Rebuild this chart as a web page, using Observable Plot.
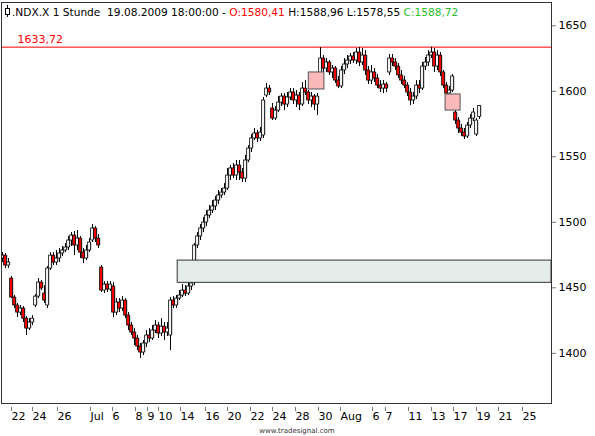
<!DOCTYPE html>
<html><head><meta charset="utf-8">
<script src="https://cdn.jsdelivr.net/npm/d3@7"></script>
<script src="https://cdn.jsdelivr.net/npm/@observablehq/plot@0.6"></script>
<style>
html,body{margin:0;padding:0;background:#fff;}
#chart svg{display:block}
</style></head><body><div id="chart"></div>
<script>
// hourly bars of .NDX.X (bar index 0..159)
const opens = [
1472.4,1474.6,1467.0,1457.1,1442.6,1436.5,1431.1,1434.2,1426.5,1418.9,
1423.5,1436.5,1443.3,1454.0,1445.6,1436.5,1464.7,1474.6,1469.3,1472.4,
1476.2,1478.5,1480.8,1486.1,1489.9,1482.3,1487.6,1476.9,1472.4,1478.5,
1486.1,1495.3,1487.6,1465.5,1447.9,1452.5,1448.7,1451.0,1431.1,1438.8,
1434.2,1440.3,1428.8,1421.2,1415.9,1411.3,1405.2,1400.6,1407.5,1413.6,
1411.3,1417.4,1421.2,1415.1,1420.4,1415.9,1413.6,1440.3,1436.5,1441.8,
1444.1,1447.9,1445.6,1451.0,1463.2,1482.3,1489.2,1495.3,1499.8,1505.2,
1509.0,1512.1,1516.6,1520.5,1522.7,1525.8,1535.7,1541.1,1535.7,1543.4,
1538.0,1533.4,1547.2,1556.3,1564.0,1567.8,1564.0,1566.3,1596.8,1602.1,
1586.9,1579.2,1585.3,1591.4,1596.0,1589.9,1595.3,1599.1,1593.0,1596.8,
1589.9,1602.1,1599.1,1593.0,1596.0,1589.9,1612.1,1625.0,1617.4,1622.0,
1614.4,1617.4,1608.2,1603.7,1615.9,1620.5,1623.5,1626.6,1623.5,1629.6,
1622.0,1627.3,1615.9,1608.2,1614.4,1609.8,1604.4,1602.1,1605.2,1614.4,
1625.0,1622.0,1618.9,1612.1,1608.2,1604.4,1599.1,1593.0,1596.0,1604.4,
1602.1,1618.9,1622.0,1627.3,1629.6,1618.9,1627.3,1614.4,1604.4,1598.3,
1600.6,1583.8,1577.7,1571.6,1568.5,1565.5,1573.9,1579.2,1567.0,1580.41];
const highs = [
1476.9,1476.2,1472.4,1458.6,1444.1,1438.0,1436.5,1435.7,1428.1,1426.5,
1428.8,1444.9,1457.1,1455.6,1451.7,1466.3,1476.9,1476.9,1478.5,1480.0,
1481.5,1483.8,1489.2,1492.2,1493.0,1493.7,1489.2,1480.0,1482.3,1487.6,
1498.3,1496.8,1490.7,1467.0,1454.8,1454.8,1454.8,1454.0,1441.8,1441.8,
1443.3,1441.8,1431.1,1423.5,1418.9,1413.6,1407.5,1409.8,1417.4,1418.9,
1421.2,1425.0,1423.5,1426.5,1423.5,1423.5,1442.6,1443.3,1444.1,1447.9,
1452.5,1451.7,1454.0,1455.6,1483.8,1492.2,1498.3,1503.7,1509.0,1512.8,
1516.6,1519.7,1524.3,1525.8,1529.6,1541.1,1543.4,1544.9,1547.2,1547.2,
1541.1,1551.0,1558.6,1567.0,1571.6,1570.1,1572.4,1595.3,1606.0,1604.4,
1590.7,1588.4,1596.0,1598.3,1598.3,1599.1,1602.1,1602.1,1600.6,1599.1,
1606.7,1608.2,1600.6,1599.1,1597.6,1598.3,1633.4,1627.3,1625.0,1623.5,
1619.7,1618.9,1611.3,1618.9,1625.0,1627.3,1628.9,1629.6,1632.7,1633.4,
1632.7,1631.1,1618.9,1619.7,1617.4,1612.8,1608.2,1608.2,1606.7,1628.1,
1628.1,1625.0,1621.2,1615.9,1611.3,1606.7,1602.1,1599.1,1608.2,1608.2,
1622.0,1625.8,1631.1,1633.7,1632.7,1631.1,1629.6,1615.9,1606.7,1603.7,
1612.8,1585.3,1580.0,1574.7,1571.6,1576.2,1582.3,1586.9,1579.2,1588.96];
const lows = [
1469.3,1464.7,1464.7,1441.8,1434.2,1427.3,1428.8,1423.5,1413.6,1417.4,
1421.2,1434.9,1441.8,1447.9,1438.0,1434.2,1463.2,1467.0,1467.0,1469.3,
1473.9,1476.9,1478.5,1481.5,1474.6,1478.5,1472.4,1468.5,1470.8,1476.9,
1484.6,1484.6,1480.0,1446.4,1445.6,1446.4,1447.2,1427.3,1428.8,1431.1,
1431.9,1426.5,1417.4,1413.6,1405.9,1402.1,1396.0,1398.3,1404.4,1408.2,
1409.8,1415.1,1411.3,1412.8,1409.8,1412.8,1402.1,1434.2,1434.2,1440.3,
1442.6,1443.3,1444.1,1447.9,1451.7,1480.0,1486.1,1492.2,1496.8,1502.9,
1506.7,1509.0,1513.6,1518.2,1520.5,1524.3,1531.9,1533.4,1531.9,1531.9,
1530.4,1530.4,1545.6,1553.3,1562.4,1560.9,1561.7,1564.0,1595.3,1596.8,
1577.7,1577.7,1583.8,1588.4,1585.3,1587.6,1593.0,1589.9,1587.6,1585.3,
1588.4,1596.8,1589.9,1587.6,1585.3,1581.5,1609.8,1614.4,1614.4,1612.1,
1609.8,1606.0,1602.1,1602.1,1612.8,1617.4,1620.5,1621.2,1620.5,1618.9,
1619.7,1612.1,1605.2,1605.2,1606.7,1602.1,1599.1,1598.3,1599.1,1612.1,
1618.9,1615.9,1609.8,1605.2,1602.1,1596.0,1589.2,1589.9,1593.7,1598.3,
1600.6,1615.9,1618.9,1625.0,1614.4,1615.9,1611.3,1602.1,1596.0,1596.0,
1599.1,1574.7,1567.8,1565.5,1563.2,1564.0,1571.6,1576.9,1565.5,1578.55];
const closes = [
1474.6,1467.0,1469.3,1442.6,1436.5,1431.1,1434.2,1426.5,1418.9,1423.5,
1426.5,1443.3,1454.0,1449.5,1440.3,1464.7,1474.6,1469.3,1472.4,1476.2,
1478.5,1480.8,1486.1,1489.9,1482.3,1487.6,1476.9,1472.4,1478.5,1484.6,
1495.3,1487.6,1482.3,1447.9,1452.5,1448.7,1452.5,1431.1,1438.8,1434.2,
1440.3,1428.8,1421.2,1415.9,1411.3,1405.2,1400.6,1407.5,1413.6,1411.3,
1417.4,1421.2,1415.1,1420.4,1415.9,1418.9,1440.3,1436.5,1441.8,1444.1,
1447.9,1445.6,1451.0,1453.3,1482.3,1489.2,1495.3,1499.8,1505.2,1509.0,
1512.1,1516.6,1520.5,1522.7,1525.8,1535.7,1541.1,1535.7,1543.4,1538.0,
1533.4,1547.2,1556.3,1564.0,1567.8,1564.0,1568.5,1593.0,1602.1,1599.1,
1579.2,1585.3,1591.4,1596.0,1589.9,1595.3,1599.1,1593.0,1596.8,1589.9,
1602.1,1599.1,1593.0,1596.0,1589.9,1596.0,1625.0,1617.4,1622.0,1614.4,
1617.4,1608.2,1603.7,1615.9,1620.5,1623.5,1626.6,1623.5,1629.6,1622.0,
1627.3,1615.9,1608.2,1614.4,1609.8,1604.4,1602.1,1605.2,1602.1,1625.0,
1622.0,1618.9,1612.1,1608.2,1604.4,1599.1,1593.0,1596.0,1604.4,1602.1,
1618.9,1622.0,1627.3,1629.6,1618.9,1627.3,1614.4,1604.4,1598.3,1600.6,
1611.3,1577.7,1571.6,1568.5,1565.5,1573.9,1579.2,1583.8,1577.7,1588.72];

// axis ticks
const yTicks = [1400, 1450, 1500, 1550, 1600, 1650];
const xTickPos = [3, 10, 18.33, 29.33, 36.67, 44.33, 48.33, 52, 59.33, 67.67, 75, 82.67, 90, 97.67, 105.33, 112.67, 123.33, 127.67, 135.33, 143, 150.33, 158, 165.33, 173.33];
const xTickLabels = ["22","24","26","Jul","6","8","9","10","14","16","20","22","24","28","30","Aug","6","7","11","13","17","19","21","25"];

// annotations
const resistanceLevel = [1633.72];
const resistanceLabel = ["1633,72"];
const zoneStart = [58.4];
const zoneLow = [1453.8];
const zoneHigh = [1470.8];
const boxStart = [102.1, 147.7];
const boxEnd = [107.3, 152.7];
const boxLow = [1601.4, 1585.3];
const boxHigh = [1614.4, 1597.6];

const titleParts = [".NDX.X 1 Stunde  19.08.2009 18:00:00 - ", "O:1580,41", " H:1588,96 L:1578,55 ", "C:1588,72"];
const titleColors = ["#000", "#ff0000", "#000", "#1fbf1f"];
const watermark = "www.tradesignal.com";

const xMax = 183;
const bars = closes.map((c, i) => ({i, o: opens[i], h: highs[i], l: lows[i], c, up: c >= opens[i]}));
const zones = zoneStart.map((x, k) => ({x1: x, x2: xMax, y1: zoneLow[k], y2: zoneHigh[k]}));
const boxes = boxStart.map((x, k) => ({x1: x, x2: boxEnd[k], y1: boxLow[k], y2: boxHigh[k]}));

const chart = Plot.plot({
  width: 595,
  height: 436,
  marginLeft: 1,
  marginRight: 44,
  marginTop: 2,
  marginBottom: 33,
  style: {fontFamily: "DejaVu Sans", fontSize: "11px", background: "#fff"},
  x: {domain: [-0.333, xMax], axis: null},
  y: {domain: [1361.7, 1667.8], axis: null},
  marks: [
    Plot.ruleY(resistanceLevel, {y: d => d, stroke: "#ff0000", strokeWidth: 1}),
    Plot.ruleX(bars, {x: "i", y1: "l", y2: "h", stroke: "#000", strokeWidth: 1, clip: true}),
    Plot.rect(bars, {x1: d => d.i + 0.05, x2: d => d.i + 0.8, y1: d => Math.min(d.o, d.c), y2: d => Math.max(d.o, d.c), fill: "#9a9a9a", clip: true}),
    Plot.rect(bars, {x1: d => d.i - 0.45, x2: d => d.i + 0.45, y1: d => Math.min(d.o, d.c), y2: d => Math.max(d.o, d.c), fill: d => d.up ? "#fff" : "#ff0000", stroke: "#000", strokeWidth: 0.8, clip: true}),
    Plot.rect(zones, {x1: "x1", x2: "x2", y1: "y1", y2: "y2", fill: "#e4ecea", stroke: "#333", strokeWidth: 1, clip: true}),
    Plot.rect(boxes, {x1: "x1", x2: "x2", y1: "y1", y2: "y2", fill: "#fbb9b9", stroke: "#555", strokeWidth: 1}),
    Plot.text(resistanceLevel, {y: d => d, frameAnchor: "left", dx: 16, dy: -8, text: (d, i) => resistanceLabel[i], fill: "#ff0000", textAnchor: "start", fontSize: 11}),
    Plot.axisY(yTicks, {anchor: "right", tickSize: 4, tickPadding: 3, tickFormat: d => String(d), stroke: "#777", fill: "#000", fontSize: 11}),
    Plot.axisX(xTickPos, {anchor: "bottom", tickSize: 4, tickPadding: 1, dy: 4, dx: 0, textAnchor: "start", tickFormat: d => xTickLabels[xTickPos.indexOf(d)], stroke: "#777", fill: "#000", fontSize: 11}),
    Plot.frame({stroke: "#333", strokeWidth: 1})
  ]
});
document.getElementById("chart").appendChild(chart);

// title line inside the frame and footer watermark
const svg = d3.select(chart);
const icon = svg.append("g").attr("stroke", "#000").attr("fill", "#fff");
icon.append("line").attr("x1", 7.5).attr("x2", 7.5).attr("y1", 5).attr("y2", 17);
icon.append("rect").attr("x", 5.5).attr("y", 8.5).attr("width", 4).attr("height", 6);
const title = svg.append("text").attr("x", 12).attr("y", 16).attr("font-size", 10.6)
  .attr("text-anchor", "start").attr("font-family", "DejaVu Sans").style("white-space", "pre");
titleParts.forEach((p, k) => title.append("tspan").attr("fill", titleColors[k]).text(p));
svg.append("text").attr("x", 297).attr("y", 433).attr("font-size", 7).attr("text-anchor", "middle")
  .attr("font-family", "DejaVu Sans").attr("fill", "#333").text(watermark);
</script></body></html>
